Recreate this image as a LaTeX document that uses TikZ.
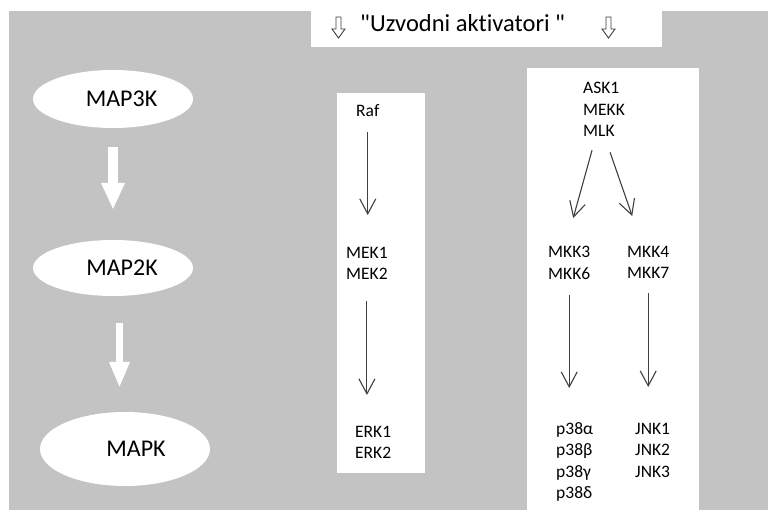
\documentclass[tikz,border=0pt]{standalone}
\usepackage{fontspec}
\setmainfont{Carlito}[Ligatures={TeXOff,NoCommon}]
\usetikzlibrary{arrows.meta,shapes.geometric}

\definecolor{panelgray}{RGB}{195,195,195}
\definecolor{inkgray}{RGB}{64,64,64}

\tikzset{
    kinase/.style={ellipse, fill=white, inner sep=0pt, font=\fontsize{24}{28}\selectfont},
    names/.style={anchor=north west, inner sep=0pt, align=left, font=\fontsize{17.5}{21.5}\selectfont},
    thinarrow/.style={draw=inkgray, line width=1.1pt, -{Straight Barb[length=15pt,width=16pt]}},
    bigarrow/.style={draw=white},
    hollowdown/.pic={
        \draw[draw=inkgray, line width=0.9pt, fill=white]
            (-2.5,0) -- (2.5,0) -- (2.5,12) -- (6.5,12) -- (0,21) -- (-6.5,12) -- (-2.5,12) -- cycle;
    }
}

\begin{document}
\begin{tikzpicture}[x=1pt, y=-1pt]
    \useasboundingbox (0,0) rectangle (768,524);
    % background and white panels
    \fill[panelgray] (9,11) rectangle (768,510);
    \fill[white] (311,0) rectangle (662,47);
    \fill[white] (337,93) rectangle (425,473);
    \fill[white] (527,68) rectangle (699,510);

    % header
    \node[anchor=base west, inner sep=0pt, font=\fontsize{24.5}{28}\selectfont] (upstream) at (360,32) {"Uzvodni aktivatori\ "};
    \pic at (338.5,17) {hollowdown};
    \pic at (608.5,17) {hollowdown};

    % general cascade
    \node[kinase, minimum width=160pt, minimum height=58pt] (map3k) at (113,99) {\hspace*{17pt}MAP3K};
    \node[kinase, minimum width=160pt, minimum height=56pt] (map2k) at (113,268) {\hspace*{18pt}MAP2K};
    \node[kinase, minimum width=170pt, minimum height=74pt] (mapk) at (125,449) {\hspace*{22pt}MAPK};
    \draw[bigarrow, line width=10pt, -{Triangle[length=27pt,width=22pt]}, shorten <=19pt, shorten >=30pt] (map3k) -- (map2k);
    \draw[bigarrow, line width=7pt, -{Triangle[length=26pt,width=19pt]}, shorten <=27pt, shorten >=24pt] ([xshift=6.5pt]map2k.south) -- ([xshift=-5.5pt]mapk.north);

    % ERK branch
    \node[names] (raf) at (356,104) {Raf};
    \node[names] (mek) at (346,247) {MEK1\\MEK2};
    \node[names] (erk) at (355,426) {ERK1\\ERK2};
    \draw[thinarrow, shorten <=15pt, shorten >=32pt] (raf.south) -- (raf.south |- mek.north);
    \draw[thinarrow, shorten <=21pt, shorten >=31pt] (mek.south) -- (mek.south |- erk.north);

    % p38 / JNK branch
    \node[names] (ask) at (583,82) {ASK1\\MEKK\\MLK};
    \node[names] (mkkl) at (548,246) {MKK3\\MKK6};
    \node[names] (mkkr) at (627,246) {MKK4\\MKK7};
    \node[names] (p38) at (556,422) {p38α\\p38β\\p38γ\\p38δ};
    \node[names] (jnk) at (635,423) {JNK1\\JNK2\\JNK3};
    \draw[thinarrow] ([xshift=-12pt, yshift=-13.5pt]ask.south) -- ([xshift=4pt, yshift=28pt]mkkl.north);
    \draw[thinarrow] ([xshift=6pt, yshift=-15.5pt]ask.south) -- ([xshift=-16pt, yshift=30pt]mkkr.north);
    \draw[thinarrow, shorten <=16pt, shorten >=34pt] (mkkl.south) -- (mkkl.south |- p38.north);
    \draw[thinarrow, shorten <=14pt, shorten >=36pt] (mkkr.south) -- (mkkr.south |- jnk.north);
\end{tikzpicture}
\end{document}
